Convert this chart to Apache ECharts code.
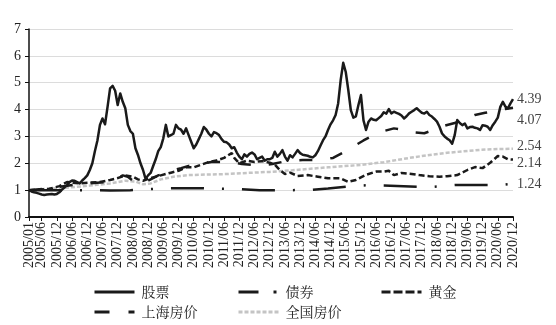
<!DOCTYPE html>
<html>
<head>
<meta charset="utf-8">
<script src="https://cdn.jsdelivr.net/npm/echarts@6/dist/echarts.min.js"></script>
<style>
html,body{margin:0;padding:0;background:#fff;}
#chart{width:556px;height:325px;}
</style>
</head>
<body>
<div id="chart"></div>
<script>
// Category labels: monthly, 2005/01 .. 2020/12
const months = [];
for (let y = 2005; y <= 2020; y++) {
  for (let m = 1; m <= 12; m++) months.push(y + '/' + (m < 10 ? '0' + m : '' + m));
}
const yTicks = [0, 1, 2, 3, 4, 5, 6, 7];

// 股票 (monthly, 192 values)
const stock = [
  1.00,0.95,0.92,0.90,0.87,0.84,0.82,0.84,0.85,0.86,0.84,0.86,
  0.92,1.02,1.10,1.19,1.30,1.36,1.35,1.30,1.25,1.36,1.45,1.55,
  1.75,2.00,2.45,2.85,3.43,3.67,3.45,4.10,4.79,4.88,4.70,4.17,
  4.60,4.29,4.05,3.43,3.20,3.10,2.56,2.31,2.00,1.75,1.42,1.55,
  1.64,1.90,2.15,2.45,2.60,2.93,3.43,3.00,3.05,3.10,3.43,3.30,
  3.25,3.10,3.30,3.05,2.80,2.56,2.70,2.90,3.10,3.35,3.25,3.10,
  3.00,3.16,3.12,3.05,2.90,2.80,2.78,2.70,2.56,2.60,2.40,2.25,
  2.15,2.33,2.25,2.35,2.40,2.33,2.15,2.20,2.25,2.10,2.15,2.15,
  2.20,2.43,2.25,2.35,2.49,2.25,2.10,2.30,2.22,2.35,2.49,2.38,
  2.32,2.30,2.28,2.24,2.22,2.30,2.45,2.65,2.85,3.00,3.24,3.45,
  3.60,3.80,4.23,5.10,5.74,5.40,4.73,3.98,3.70,3.75,4.17,4.54,
  3.60,3.24,3.55,3.67,3.62,3.60,3.68,3.76,3.90,3.85,4.02,3.86,
  3.92,3.88,3.84,3.78,3.67,3.75,3.86,3.92,3.98,4.05,3.96,3.88,
  3.85,3.92,3.80,3.74,3.65,3.55,3.36,3.11,3.00,2.92,2.86,2.73,
  3.05,3.61,3.50,3.42,3.48,3.30,3.35,3.36,3.32,3.30,3.24,3.42,
  3.40,3.36,3.24,3.42,3.55,3.70,4.10,4.29,4.11,4.05,4.23,4.39
];

// 债券 (month index, value)
const bondMonths = [0,12,24,32,40,48,56,69,76,83,91,104,112,118,125,133,140,153,160,168,181,188,191];
const bondValues = [1.00,1.00,1.00,0.99,1.00,1.04,1.07,1.07,1.05,1.04,1.00,1.00,1.01,1.06,1.13,1.18,1.17,1.13,1.13,1.19,1.19,1.21,1.24];

// 黄金
const goldMonths = [0,4,8,12,15,17,20,24,28,32,35,38,41,43,45,48,52,56,59,62,65,68,71,74,77,80,81,83,86,89,92,95,97,99,101,103,106,110,114,118,123,126,129,133,137,140,142,144,147,151,154,158,162,165,169,173,176,179,182,185,187,189,191];
const goldValues = [1.00,1.02,1.05,1.15,1.30,1.28,1.25,1.28,1.30,1.38,1.45,1.55,1.50,1.40,1.35,1.45,1.55,1.65,1.72,1.85,1.85,1.95,2.05,2.10,2.20,2.38,2.20,2.00,2.10,2.05,2.08,2.02,1.95,1.75,1.60,1.65,1.53,1.56,1.50,1.44,1.44,1.31,1.38,1.57,1.69,1.69,1.72,1.56,1.64,1.60,1.56,1.52,1.50,1.52,1.56,1.75,1.86,1.82,2.02,2.27,2.25,2.15,2.14];

// 上海房价
const shMonths = [0,6,12,18,24,30,33,36,37,39,41,44,46,48,51,54,57,60,63,66,69,72,76,80,84,88,92,96,100,104,108,112,116,120,124,128,132,136,140,144,148,152,156,160,164,168,172,176,180,184,188,191];
const shValues = [1.00,1.05,1.12,1.20,1.25,1.30,1.40,1.50,1.55,1.50,1.35,1.22,1.30,1.40,1.55,1.65,1.75,1.82,1.90,1.95,2.00,2.05,2.05,2.05,1.97,1.94,1.92,1.97,2.05,2.10,2.12,2.12,2.15,2.20,2.40,2.62,2.85,3.05,3.20,3.30,3.25,3.15,3.12,3.25,3.40,3.50,3.65,3.80,3.88,3.95,4.02,4.07];

// 全国房价
const cnMonths = [0,8,16,24,32,38,42,45,48,52,57,63,70,78,86,95,104,118,131,140,152,165,178,185,191];
const cnValues = [1.00,1.05,1.10,1.17,1.25,1.35,1.32,1.22,1.25,1.40,1.50,1.56,1.58,1.60,1.64,1.68,1.74,1.85,1.94,2.04,2.23,2.39,2.50,2.53,2.54];

// Right-side end labels
const endTexts = { stock: '4.39', sh: '4.07', cn: '2.54', gold: '2.14', bond: '1.24' };

const pairs = (ms, vs) => ms.map((m, i) => [m, vs[i]]);

const SERIF = '"Liberation Serif","DejaVu Serif",serif';
const CJK = '"Noto Serif CJK SC","Noto Sans CJK SC",serif';

const showIdx = (i) => i === 0 || /\/(06|12)$/.test(months[i]);

function endLabel(text, dy) {
  return {
    show: true, formatter: text, offset: [0, dy], distance: 4,
    fontFamily: SERIF, fontSize: 14, color: '#444'
  };
}

const chart = echarts.init(document.getElementById('chart'), null, { renderer: 'canvas' });

function legendAt(name, left, top, lineType, color) {
  return {
    data: [name], left: left, top: top, itemWidth: 40, itemHeight: 14, itemGap: 0,
    textStyle: { fontFamily: CJK, fontSize: 14, color: '#222', padding: [0, 0, 0, 2] },
    lineStyle: { type: lineType, width: 3, color: color, cap: 'butt' },
    itemStyle: { color: 'rgba(0,0,0,0)', borderColor: 'rgba(0,0,0,0)', borderWidth: 0 },
    selectedMode: false
  };
}

chart.setOption({
  animation: false,
  backgroundColor: '#fff',
  grid: { left: 29, right: 43, top: 29, bottom: 108, containLabel: false },
  legend: [
    legendAt('股票', 88, 280, 'solid', '#1a1a1a'),
    legendAt('债券', 232, 280, [20, 15, 3, 40], '#1a1a1a'),
    legendAt('黄金', 375, 280, [9, 3], '#1a1a1a'),
    legendAt('上海房价', 88, 300, [15, 19], '#1a1a1a'),
    legendAt('全国房价', 232, 300, [4, 2], '#c4c4c4')
  ],
  xAxis: {
    type: 'category', data: months, boundaryGap: false,
    axisLine: { show: true, lineStyle: { color: '#111', width: 2 } },
    axisTick: { show: true, interval: showIdx, length: 4, lineStyle: { color: '#111', width: 1 } },
    axisLabel: {
      interval: 0, rotate: 90, margin: 5, hideOverlap: false,
      formatter: (v, i) => (showIdx(i) ? v : ''),
      fontFamily: SERIF, fontSize: 14, color: '#222'
    },
    splitLine: { show: false }
  },
  yAxis: {
    type: 'value', min: yTicks[0], max: yTicks[yTicks.length - 1], interval: 1,
    axisLine: { show: true, lineStyle: { color: '#111', width: 1.5 } },
    axisTick: { show: true, length: 4, lineStyle: { color: '#111' } },
    axisLabel: { margin: 8, fontFamily: SERIF, fontSize: 14, color: '#222' },
    splitLine: { show: true, lineStyle: { color: '#dcdcdc', width: 1 } }
  },
  series: [
    {
      name: '全国房价', type: 'line', data: pairs(cnMonths, cnValues), symbol: 'none', z: 2,
      lineStyle: { color: '#c4c4c4', width: 2.5, type: [4, 2], cap: 'butt' },
      itemStyle: { color: '#c4c4c4' },
      endLabel: endLabel(endTexts.cn, -2)
    },
    {
      name: '债券', type: 'line', data: pairs(bondMonths, bondValues), symbol: 'none', z: 3,
      lineStyle: { color: '#1a1a1a', width: 2.5, type: [33, 18, 2, 18], cap: 'butt' },
      itemStyle: { color: '#1a1a1a' },
      endLabel: endLabel(endTexts.bond, 1)
    },
    {
      name: '黄金', type: 'line', data: pairs(goldMonths, goldValues), symbol: 'none', z: 3,
      lineStyle: { color: '#1a1a1a', width: 2.5, type: [6, 3], cap: 'butt' },
      itemStyle: { color: '#1a1a1a' },
      endLabel: endLabel(endTexts.gold, 4)
    },
    {
      name: '上海房价', type: 'line', data: pairs(shMonths, shValues), symbol: 'none', z: 3,
      lineStyle: { color: '#1a1a1a', width: 2.5, type: [13, 18], cap: 'butt' },
      itemStyle: { color: '#1a1a1a' },
      endLabel: endLabel(endTexts.sh, 13)
    },
    {
      name: '股票', type: 'line', data: stock, symbol: 'none', z: 4,
      lineStyle: { color: '#1a1a1a', width: 2.5, type: 'solid', join: 'round' },
      itemStyle: { color: '#1a1a1a' },
      endLabel: endLabel(endTexts.stock, 0)
    }
  ]
});
</script>
</body>
</html>
